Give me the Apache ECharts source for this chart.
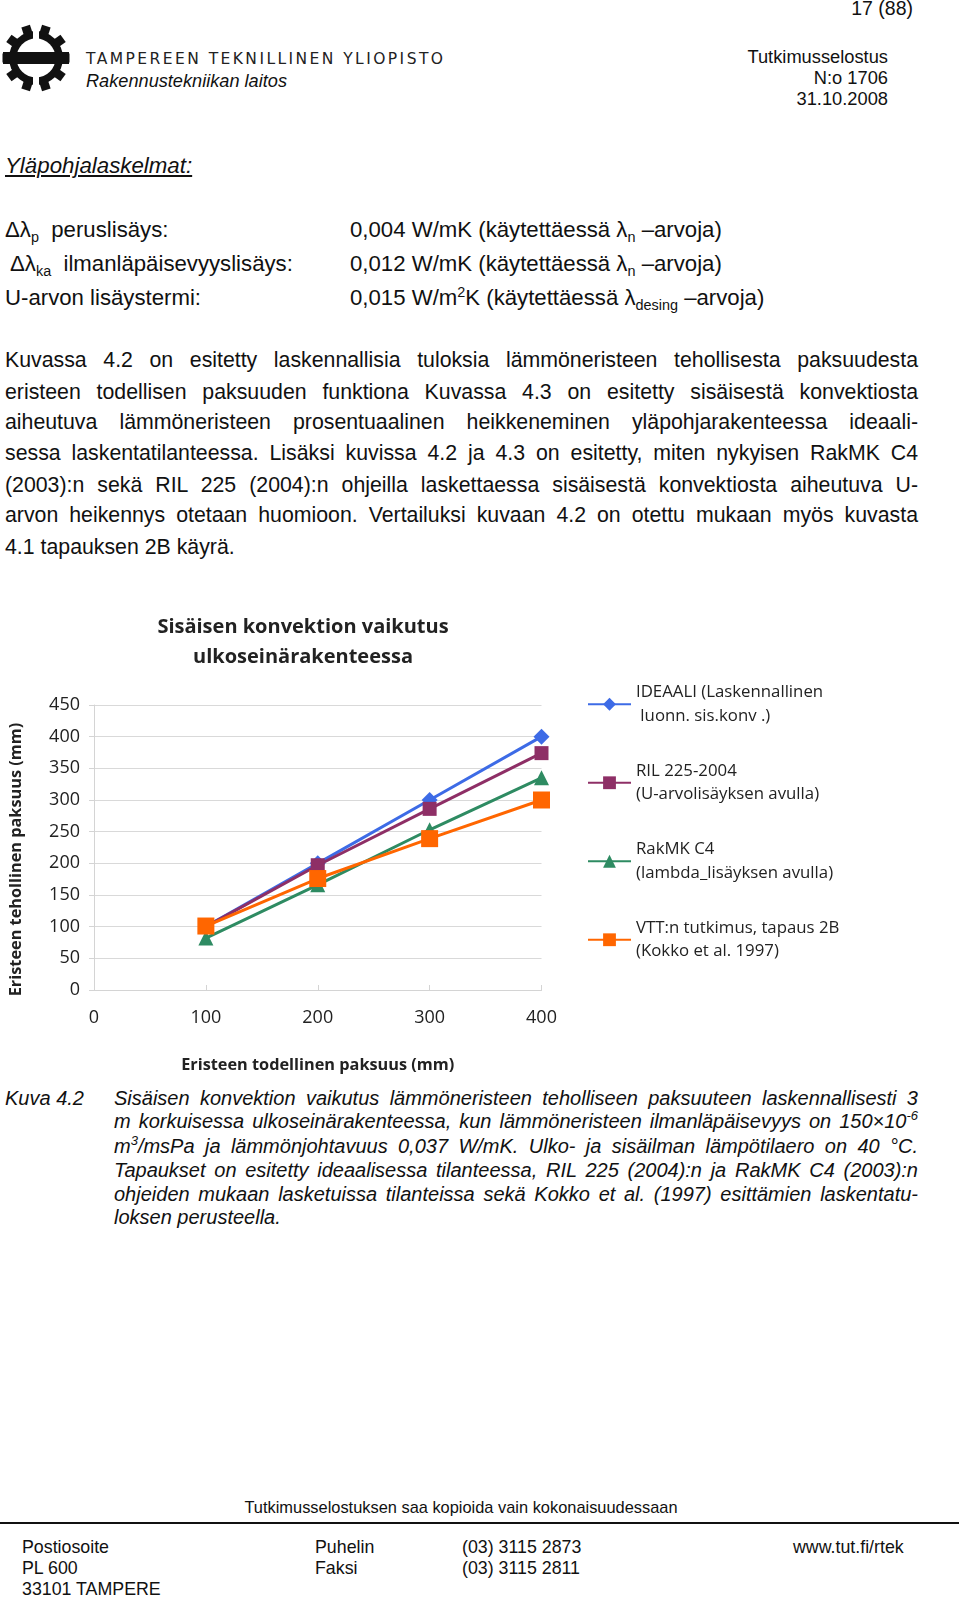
<!DOCTYPE html>
<html>
<head>
<meta charset="utf-8">
<script src="https://cdn.jsdelivr.net/npm/echarts@6/dist/echarts.min.js"></script>
<style>
  html, body { margin: 0; padding: 0; background: #fff; }
  body { width: 960px; height: 1599px; position: relative; overflow: hidden;
         font-family: "Liberation Sans", Arial, sans-serif; color: #111; }
  .t { position: absolute; white-space: nowrap; }
  .row { position: absolute; left: 5px; width: 913px; font-size: 21.3px; height: 24px; line-height: 24px;
         text-align: justify; text-align-last: justify; white-space: nowrap; }
  .cap { position: absolute; left: 114px; width: 804px; font-size: 20px; height: 22px; line-height: 22px;
         font-style: italic; text-align: justify; text-align-last: justify; white-space: nowrap; }
  .last { text-align-last: left; }
  sub, sup { font-size: 65%; line-height: 0; }
  .r { font-size: 22.2px; line-height: 24px; }
  #chart { position: absolute; left: 0; top: 0; width: 960px; height: 1599px; z-index: 2; }
</style>
</head>
<body>
<svg class="t" style="left:0;top:0" width="460" height="110">
  <g transform="translate(36,58)">
    <circle r="27" fill="#111"/>
    <g fill="#111">
      <rect x="-4.5" y="-33.5" width="9" height="10" transform="rotate(18)"/>
      <rect x="-4.5" y="-33.5" width="9" height="10" transform="rotate(54)"/>
      <rect x="-4.5" y="-33.5" width="9" height="10" transform="rotate(90)"/>
      <rect x="-4.5" y="-33.5" width="9" height="10" transform="rotate(126)"/>
      <rect x="-4.5" y="-33.5" width="9" height="10" transform="rotate(162)"/>
      <rect x="-4.5" y="-33.5" width="9" height="10" transform="rotate(198)"/>
      <rect x="-4.5" y="-33.5" width="9" height="10" transform="rotate(234)"/>
      <rect x="-4.5" y="-33.5" width="9" height="10" transform="rotate(270)"/>
      <rect x="-4.5" y="-33.5" width="9" height="10" transform="rotate(306)"/>
      <rect x="-4.5" y="-33.5" width="9" height="10" transform="rotate(342)"/>
    </g>
    <circle r="19.5" fill="#fff"/>
    <rect x="-33" y="-6" width="66" height="12" fill="#111"/>
    <rect x="-3" y="-36" width="6" height="18" fill="#fff"/>
    <rect x="-3" y="18" width="6" height="18" fill="#fff"/>
  </g>
  <text x="86" y="64" font-family="DejaVu Sans" font-size="15.5" fill="#222" textLength="357" lengthAdjust="spacing">TAMPEREEN TEKNILLINEN YLIOPISTO</text>
  <text x="86" y="87" font-family="Liberation Sans" font-style="italic" font-size="17.5" fill="#111" textLength="201" lengthAdjust="spacingAndGlyphs">Rakennustekniikan laitos</text>
</svg>

<div class="t" style="right:47px;top:-3px;font-size:19.5px;line-height:22px;">17 (88)</div>
<div class="t" style="right:72px;top:46px;font-size:18.3px;line-height:22px;text-align:right;">Tutkimusselostus</div>
<div class="t" style="right:72px;top:67px;font-size:18.3px;line-height:22px;text-align:right;">N:o 1706</div>
<div class="t" style="right:72px;top:88px;font-size:18.3px;line-height:22px;text-align:right;">31.10.2008</div>

<div class="t" style="left:5px;top:154px;font-size:22.3px;line-height:24px;font-style:italic;text-decoration:underline;">Yläpohjalaskelmat:</div>

<div class="t r" style="left:5px;top:218px;">&Delta;&lambda;<sub>p</sub>&nbsp; peruslisäys:</div>
<div class="t r" style="left:10px;top:252px;">&Delta;&lambda;<sub>ka</sub>&nbsp; ilmanläpäisevyyslisäys:</div>
<div class="t r" style="left:5px;top:286px;">U-arvon lisäystermi:</div>
<div class="t r" style="left:350px;top:218px;">0,004 W/mK (käytettäessä &lambda;<sub>n</sub> –arvoja)</div>
<div class="t r" style="left:350px;top:252px;">0,012 W/mK (käytettäessä &lambda;<sub>n</sub> –arvoja)</div>
<div class="t r" style="left:350px;top:286px;">0,015 W/m<sup>2</sup>K (käytettäessä &lambda;<sub>desing</sub> –arvoja)</div>

<div class="row" style="top:348px;">Kuvassa 4.2 on esitetty laskennallisia tuloksia lämmöneristeen tehollisesta paksuudesta</div>
<div class="row" style="top:380px;">eristeen todellisen paksuuden funktiona Kuvassa 4.3 on esitetty sisäisestä konvektiosta</div>
<div class="row" style="top:410px;">aiheutuva lämmöneristeen prosentuaalinen heikkeneminen yläpohjarakenteessa ideaali-</div>
<div class="row" style="top:441px;">sessa laskentatilanteessa. Lisäksi kuvissa 4.2 ja 4.3 on esitetty, miten nykyisen RakMK C4</div>
<div class="row" style="top:473px;">(2003):n sekä RIL 225 (2004):n ohjeilla laskettaessa sisäisestä konvektiosta aiheutuva U-</div>
<div class="row" style="top:503px;">arvon heikennys otetaan huomioon. Vertailuksi kuvaan 4.2 on otettu mukaan myös kuvasta</div>
<div class="row last" style="top:535px;">4.1 tapauksen 2B käyrä.</div>

<div class="t" style="left:5px;top:1087px;font-size:20px;line-height:22px;font-style:italic;">Kuva 4.2</div>
<div class="cap" style="top:1087px;">Sisäisen konvektion vaikutus lämmöneristeen teholliseen paksuuteen laskennallisesti 3</div>
<div class="cap" style="top:1110px;">m korkuisessa ulkoseinärakenteessa, kun lämmöneristeen ilmanläpäisevyys on 150×10<sup>-6</sup></div>
<div class="cap" style="top:1135px;">m<sup>3</sup>/msPa ja lämmönjohtavuus 0,037 W/mK. Ulko- ja sisäilman lämpötilaero on 40 °C.</div>
<div class="cap" style="top:1159px;">Tapaukset on esitetty ideaalisessa tilanteessa, RIL 225 (2004):n ja RakMK C4 (2003):n</div>
<div class="cap" style="top:1183px;">ohjeiden mukaan lasketuissa tilanteissa sekä Kokko et al. (1997) esittämien laskentatu-</div>
<div class="cap last" style="top:1206px;">loksen perusteella.</div>

<div class="t" style="left:0;width:922px;text-align:center;top:1497px;font-size:16.4px;line-height:20px;">Tutkimusselostuksen saa kopioida vain kokonaisuudessaan</div>
<div class="t" style="left:0;top:1522px;width:959px;height:2px;background:#111;"></div>
<div class="t" style="left:22px;top:1537px;font-size:17.8px;line-height:21px;">Postiosoite<br>PL 600<br>33101 TAMPERE</div>
<div class="t" style="left:315px;top:1537px;font-size:17.8px;line-height:21px;">Puhelin<br>Faksi</div>
<div class="t" style="left:462px;top:1537px;font-size:17.8px;line-height:21px;">(03) 3115 2873<br>(03) 3115 2811</div>
<div class="t" style="left:793px;top:1537px;font-size:17.8px;line-height:21px;">www.tut.fi/rtek</div>

<div id="chart"></div>
<script>
// Eristeen todellinen paksuus (mm)
const actualThickness = [100, 200, 300, 400];
// Eristeen tehollinen paksuus (mm)
const ideaali = [100, 200, 300, 400];
const ril225 = [100, 197, 286, 374];
const rakmkC4 = [82, 166, 253, 335];
const vtt2B = [101, 176, 239, 300];

const seriesNames = [
  'IDEAALI (Laskennallinen\n luonn. sis.konv .)',
  'RIL 225-2004\n(U-arvolisäyksen avulla)',
  'RakMK C4\n(lambda_lisäyksen avulla)',
  'VTT:n tutkimus, tapaus 2B\n(Kokko et al. 1997)'
];
const seriesValues = [ideaali, ril225, rakmkC4, vtt2B];
const colors = ['#3d6be6', '#8e2f66', '#2e8b62', '#ff6600'];
const symbols = ['diamond', 'rect', 'triangle', 'rect'];
const symbolSizes = [16, 14, 15, 17];

const pair = (ys) => actualThickness.map((x, i) => [x, ys[i]]);

const font = '"Open Sans", "Noto Sans", sans-serif';
const chart = echarts.init(document.getElementById('chart'), null, { renderer: 'canvas' });

chart.setOption({
  animation: false,
  backgroundColor: 'transparent',
  color: colors,
  textStyle: { fontFamily: font, color: '#222' },
  title: {
    text: 'Sisäisen konvektion vaikutus\nulkoseinärakenteessa',
    left: 298,
    top: 607,
    textAlign: 'center',
    textStyle: { fontFamily: font, fontSize: 20, fontWeight: 'bold', lineHeight: 30.5, color: '#222' }
  },
  grid: { left: 94, right: 418.5, top: 705, bottom: 609 },
  legend: {
    orient: 'vertical',
    left: 582,
    top: 664,
    itemWidth: 43,
    itemHeight: 16,
    itemGap: 8,
    textStyle: { fontFamily: font, fontSize: 16.8, color: '#222', lineHeight: 23.5, padding: [23.5, 0, 0, 0] },
    data: seriesNames
  },
  xAxis: {
    type: 'value',
    min: 0,
    max: 400,
    interval: 100,
    name: 'Eristeen todellinen paksuus (mm)',
    nameLocation: 'middle',
    nameGap: 67,
    nameTextStyle: { fontFamily: font, fontSize: 16.3, fontWeight: 'bold', color: '#222' },
    axisLine: { show: true, lineStyle: { color: '#d4d4d4', width: 1 } },
    axisTick: { show: true, inside: true, length: 5, lineStyle: { color: '#d4d4d4' } },
    axisLabel: { margin: 19, fontSize: 18, color: '#222', fontFamily: font },
    splitLine: { show: false }
  },
  yAxis: {
    type: 'value',
    min: 0,
    max: 450,
    interval: 50,
    name: 'Eristeen tehollinen paksuus (mm)',
    nameLocation: 'middle',
    nameGap: 70,
    nameTextStyle: { fontFamily: font, fontSize: 16.3, fontWeight: 'bold', color: '#222', padding: [0, 24, 0, 0] },
    axisLine: { show: true, lineStyle: { color: '#d4d4d4', width: 1 } },
    axisTick: { show: true, length: 5, lineStyle: { color: '#d4d4d4' } },
    axisLabel: { margin: 14, fontSize: 18, color: '#222', fontFamily: font },
    splitLine: { show: true, lineStyle: { color: '#d9d9d9', width: 1 } }
  },
  series: seriesValues.map((vals, i) => ({
    name: seriesNames[i],
    type: 'line',
    data: pair(vals),
    symbol: symbols[i],
    symbolSize: symbolSizes[i],
    showAllSymbol: true,
    lineStyle: { width: 3, color: colors[i] },
    itemStyle: { color: colors[i] },
    z: 2 + i
  }))
});
</script>
</body>
</html>
